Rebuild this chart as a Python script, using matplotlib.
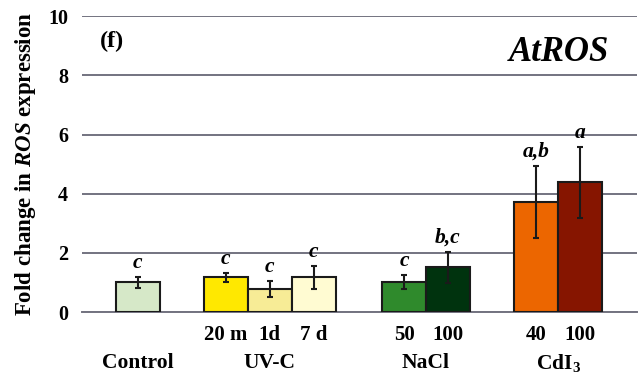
import matplotlib
matplotlib.use("Agg")
import matplotlib.pyplot as plt
import numpy as np

plt.rcParams['font.family'] = 'Liberation Serif'
plt.rcParams['font.weight'] = 'bold'
plt.rcParams['mathtext.fontset'] = 'custom'
plt.rcParams['mathtext.rm'] = 'Liberation Serif:bold'
plt.rcParams['mathtext.it'] = 'Liberation Serif:italic:bold'
plt.rcParams['mathtext.bf'] = 'Liberation Serif:bold'

# data
tick_labels = ["", "20 m", "1d", "7 d", "50", "100", "40", "100"]
positions = [0, 2, 3, 4, 6.05, 7.05, 9.05, 10.05]
values = [1.00, 1.18, 0.79, 1.17, 1.02, 1.51, 3.73, 4.38]
errors = [0.18, 0.15, 0.27, 0.38, 0.24, 0.52, 1.22, 1.20]
letters = ["c", "c", "c", "c", "c", "b,c", "a,b", "a"]
colors = ["#d6e8c8", "#ffe800", "#f7ec96", "#fffbd2",
          "#2f8a2c", "#00330e", "#ec6600", "#861500"]
groups = ["Control", "UV-C", "NaCl", "CdI$_\\mathrm{3}$"]
group_pos = [0, 3, 6.55, 9.55]

fig = plt.figure(figsize=(6.4, 3.76), dpi=100)
ax = fig.add_axes([0.128, 0.170, 0.867, 0.787])

ax.bar(positions, values, width=1.0, color=colors, edgecolor="#1a1a1a",
       linewidth=1.5, zorder=3)
ax.errorbar(positions, values, yerr=errors, fmt="none", ecolor="#1a1a1a",
            elinewidth=1.5, capsize=2.5, capthick=1.5, zorder=4)

for p, v, e, t in zip(positions, values, errors, letters):
    ax.annotate(t, (p, v + e), xytext=(0, 3), textcoords="offset points",
                ha="center", va="bottom", fontsize=15.5, style="italic",
                fontweight="bold")

ax.set_ylim(0, 10)
ax.set_xlim(-1.27, 11.34)
ax.set_yticks([0, 2, 4, 6, 8, 10])
ax.yaxis.grid(True, color="#737380", linewidth=1.4, zorder=0)
ax.set_axisbelow(True)
for s in ["left", "right", "top"]:
    ax.spines[s].set_visible(False)
ax.spines["bottom"].set_color("#737380")
ax.spines["bottom"].set_linewidth(1.4)
ax.tick_params(axis="y", length=0, labelsize=14.5, pad=10)
ax.tick_params(axis="x", length=0, labelsize=15, pad=9)
ax.set_xticks(positions)
ax.set_xticklabels(tick_labels, fontweight="bold")
for lbl in ax.get_yticklabels():
    lbl.set_fontweight("bold")

for g, gp in zip(groups, group_pos):
    ax.text(gp, -1.72, g, ha="center", va="center", fontsize=15.5,
            fontweight="bold", transform=ax.transData, clip_on=False)

ax.set_ylabel("Fold change in $\\mathit{ROS}$ expression", fontsize=16.5,
              fontweight="bold", labelpad=7)
ax.text(0.032, 0.915, "(f)", transform=ax.transAxes, fontsize=17.5,
        fontweight="bold", va="center")
ax.text(0.951, 0.878, "AtROS", transform=ax.transAxes, fontsize=25,
        fontweight="bold", style="italic", ha="right", va="center")

fig.savefig("out.png", dpi=100)
